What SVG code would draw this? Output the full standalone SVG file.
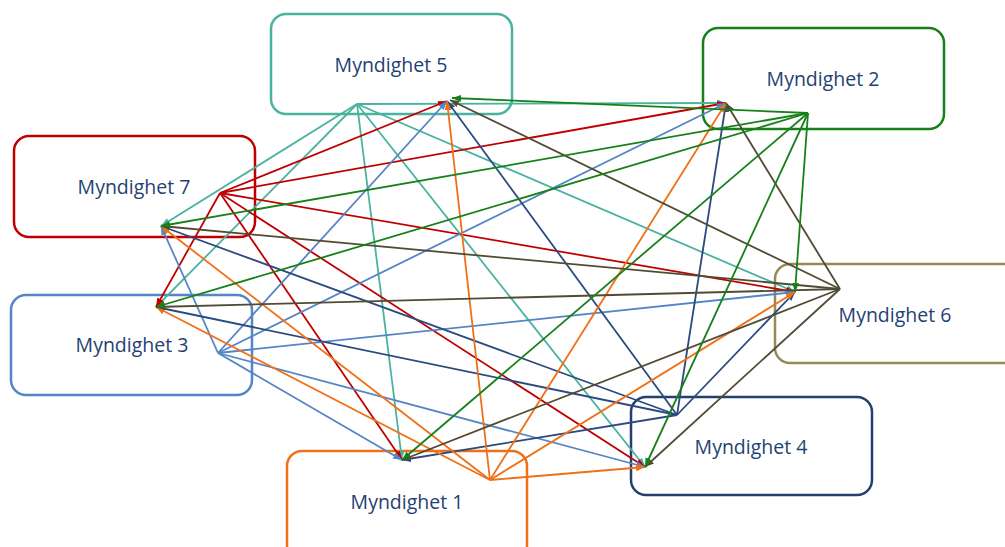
<svg xmlns="http://www.w3.org/2000/svg" width="1005" height="547" viewBox="0 0 1005 547">
<defs>
<style>
.box{fill:#fff;stroke-width:2.5}
.lbl{font-family:"Open Sans","Liberation Sans",sans-serif;font-size:19.5px;fill:#1F4273;text-anchor:middle}
.c line{stroke-width:1.8;fill:none}
.s5{stroke:#4AB3A0}.s2{stroke:#16801A}.s7{stroke:#C00000}.s3{stroke:#5585C5}.s6{stroke:#514B33}.s4{stroke:#2A4A80}.s1{stroke:#F07018}
</style>
<marker id="a5" markerWidth="10" markerHeight="8" refX="9" refY="3.5" orient="auto" markerUnits="userSpaceOnUse"><path d="M0,0 L9,3.5 L0,7 z" fill="#4AB3A0"/></marker>
<marker id="a2" markerWidth="10" markerHeight="8" refX="9" refY="3.5" orient="auto" markerUnits="userSpaceOnUse"><path d="M0,0 L9,3.5 L0,7 z" fill="#16801A"/></marker>
<marker id="a7" markerWidth="10" markerHeight="8" refX="9" refY="3.5" orient="auto" markerUnits="userSpaceOnUse"><path d="M0,0 L9,3.5 L0,7 z" fill="#C00000"/></marker>
<marker id="a3" markerWidth="10" markerHeight="8" refX="9" refY="3.5" orient="auto" markerUnits="userSpaceOnUse"><path d="M0,0 L9,3.5 L0,7 z" fill="#5585C5"/></marker>
<marker id="a6" markerWidth="10" markerHeight="8" refX="9" refY="3.5" orient="auto" markerUnits="userSpaceOnUse"><path d="M0,0 L9,3.5 L0,7 z" fill="#514B33"/></marker>
<marker id="a4" markerWidth="10" markerHeight="8" refX="9" refY="3.5" orient="auto" markerUnits="userSpaceOnUse"><path d="M0,0 L9,3.5 L0,7 z" fill="#2A4A80"/></marker>
<marker id="a1" markerWidth="10" markerHeight="8" refX="9" refY="3.5" orient="auto" markerUnits="userSpaceOnUse"><path d="M0,0 L9,3.5 L0,7 z" fill="#F07018"/></marker>
</defs>
<rect width="1005" height="547" fill="#fff"/>
<g id="node5"><rect class="box" x="271" y="14" width="241" height="100" rx="15" stroke="#4AB3A0"/><text class="lbl" x="391" y="72">Myndighet 5</text></g>
<g id="node2"><rect class="box" x="703" y="28" width="241" height="101" rx="15" stroke="#16801A"/><text class="lbl" x="823" y="86">Myndighet 2</text></g>
<g id="node7"><rect class="box" x="14" y="136" width="241" height="101" rx="15" stroke="#C00000"/><text class="lbl" x="134" y="194">Myndighet 7</text></g>
<g id="node3"><rect class="box" x="11" y="295" width="241" height="100" rx="15" stroke="#5585C5"/><text class="lbl" x="132" y="352">Myndighet 3</text></g>
<g id="node6"><rect class="box" x="775" y="264" width="245" height="99" rx="15" stroke="#948A54"/><text class="lbl" x="895" y="322">Myndighet 6</text></g>
<g id="node4"><rect class="box" x="631" y="397" width="241" height="98" rx="15" stroke="#243F70"/><text class="lbl" x="751" y="454">Myndighet 4</text></g>
<g id="node1"><rect class="box" x="287" y="451" width="240" height="110" rx="15" stroke="#F07018"/><text class="lbl" x="407" y="509">Myndighet 1</text></g>
<g id="connectors" class="c">
<g class="s5">
<line x1="357" y1="104" x2="726" y2="103" marker-end="url(#a5)"/>
<line x1="357" y1="104" x2="161" y2="226" marker-end="url(#a5)"/>
<line x1="357" y1="104" x2="156" y2="307" marker-end="url(#a5)"/>
<line x1="357" y1="104" x2="402" y2="460" marker-end="url(#a5)"/>
<line x1="357" y1="104" x2="645" y2="467" marker-end="url(#a5)"/>
<line x1="357" y1="104" x2="795" y2="292" marker-end="url(#a5)"/>
</g>
<g class="s7">
<line x1="220" y1="193" x2="447" y2="101" marker-end="url(#a7)"/>
<line x1="220" y1="193" x2="726" y2="103" marker-end="url(#a7)"/>
<line x1="220" y1="193" x2="795" y2="292" marker-end="url(#a7)"/>
<line x1="220" y1="193" x2="402" y2="460" marker-end="url(#a7)"/>
<line x1="220" y1="193" x2="645" y2="467" marker-end="url(#a7)"/>
<line x1="220" y1="193" x2="156" y2="307" marker-end="url(#a7)"/>
</g>
<g class="s3">
<line x1="218" y1="353" x2="447" y2="101" marker-end="url(#a3)"/>
<line x1="218" y1="353" x2="726" y2="103" marker-end="url(#a3)"/>
<line x1="218" y1="353" x2="795" y2="292" marker-end="url(#a3)"/>
<line x1="218" y1="353" x2="645" y2="467" marker-end="url(#a3)"/>
<line x1="218" y1="353" x2="402" y2="460" marker-end="url(#a3)"/>
<line x1="218" y1="353" x2="161" y2="226" marker-end="url(#a3)"/>
</g>
<g class="s4">
<line x1="677" y1="415" x2="447" y2="101" marker-end="url(#a4)"/>
<line x1="677" y1="415" x2="726" y2="103" marker-end="url(#a4)"/>
<line x1="677" y1="415" x2="795" y2="292" marker-end="url(#a4)"/>
<line x1="677" y1="415" x2="161" y2="226" marker-end="url(#a4)"/>
<line x1="677" y1="415" x2="156" y2="307" marker-end="url(#a4)"/>
<line x1="677" y1="415" x2="402" y2="460" marker-end="url(#a4)"/>
</g>
<g class="s1">
<line x1="490" y1="480" x2="447" y2="101" marker-end="url(#a1)"/>
<line x1="490" y1="480" x2="726" y2="103" marker-end="url(#a1)"/>
<line x1="490" y1="480" x2="795" y2="292" marker-end="url(#a1)"/>
<line x1="490" y1="480" x2="645" y2="467" marker-end="url(#a1)"/>
<line x1="490" y1="480" x2="161" y2="226" marker-end="url(#a1)"/>
<line x1="490" y1="480" x2="156" y2="307" marker-end="url(#a1)"/>
</g>
<g class="s6">
<line x1="840" y1="289" x2="450" y2="100" marker-end="url(#a6)"/>
<line x1="840" y1="289" x2="726" y2="103" marker-end="url(#a6)"/>
<line x1="840" y1="289" x2="161" y2="226" marker-end="url(#a6)"/>
<line x1="840" y1="289" x2="156" y2="307" marker-end="url(#a6)"/>
<line x1="840" y1="289" x2="402" y2="460" marker-end="url(#a6)"/>
<line x1="840" y1="289" x2="645" y2="467" marker-end="url(#a6)"/>
</g>
<g class="s2">
<line x1="808" y1="113" x2="452" y2="98" marker-end="url(#a2)"/>
<line x1="808" y1="113" x2="161" y2="226" marker-end="url(#a2)"/>
<line x1="808" y1="113" x2="156" y2="307" marker-end="url(#a2)"/>
<line x1="808" y1="113" x2="402" y2="460" marker-end="url(#a2)"/>
<line x1="808" y1="113" x2="645" y2="467" marker-end="url(#a2)"/>
<line x1="808" y1="113" x2="795" y2="292" marker-end="url(#a2)"/>
</g>
</g>
</svg>
